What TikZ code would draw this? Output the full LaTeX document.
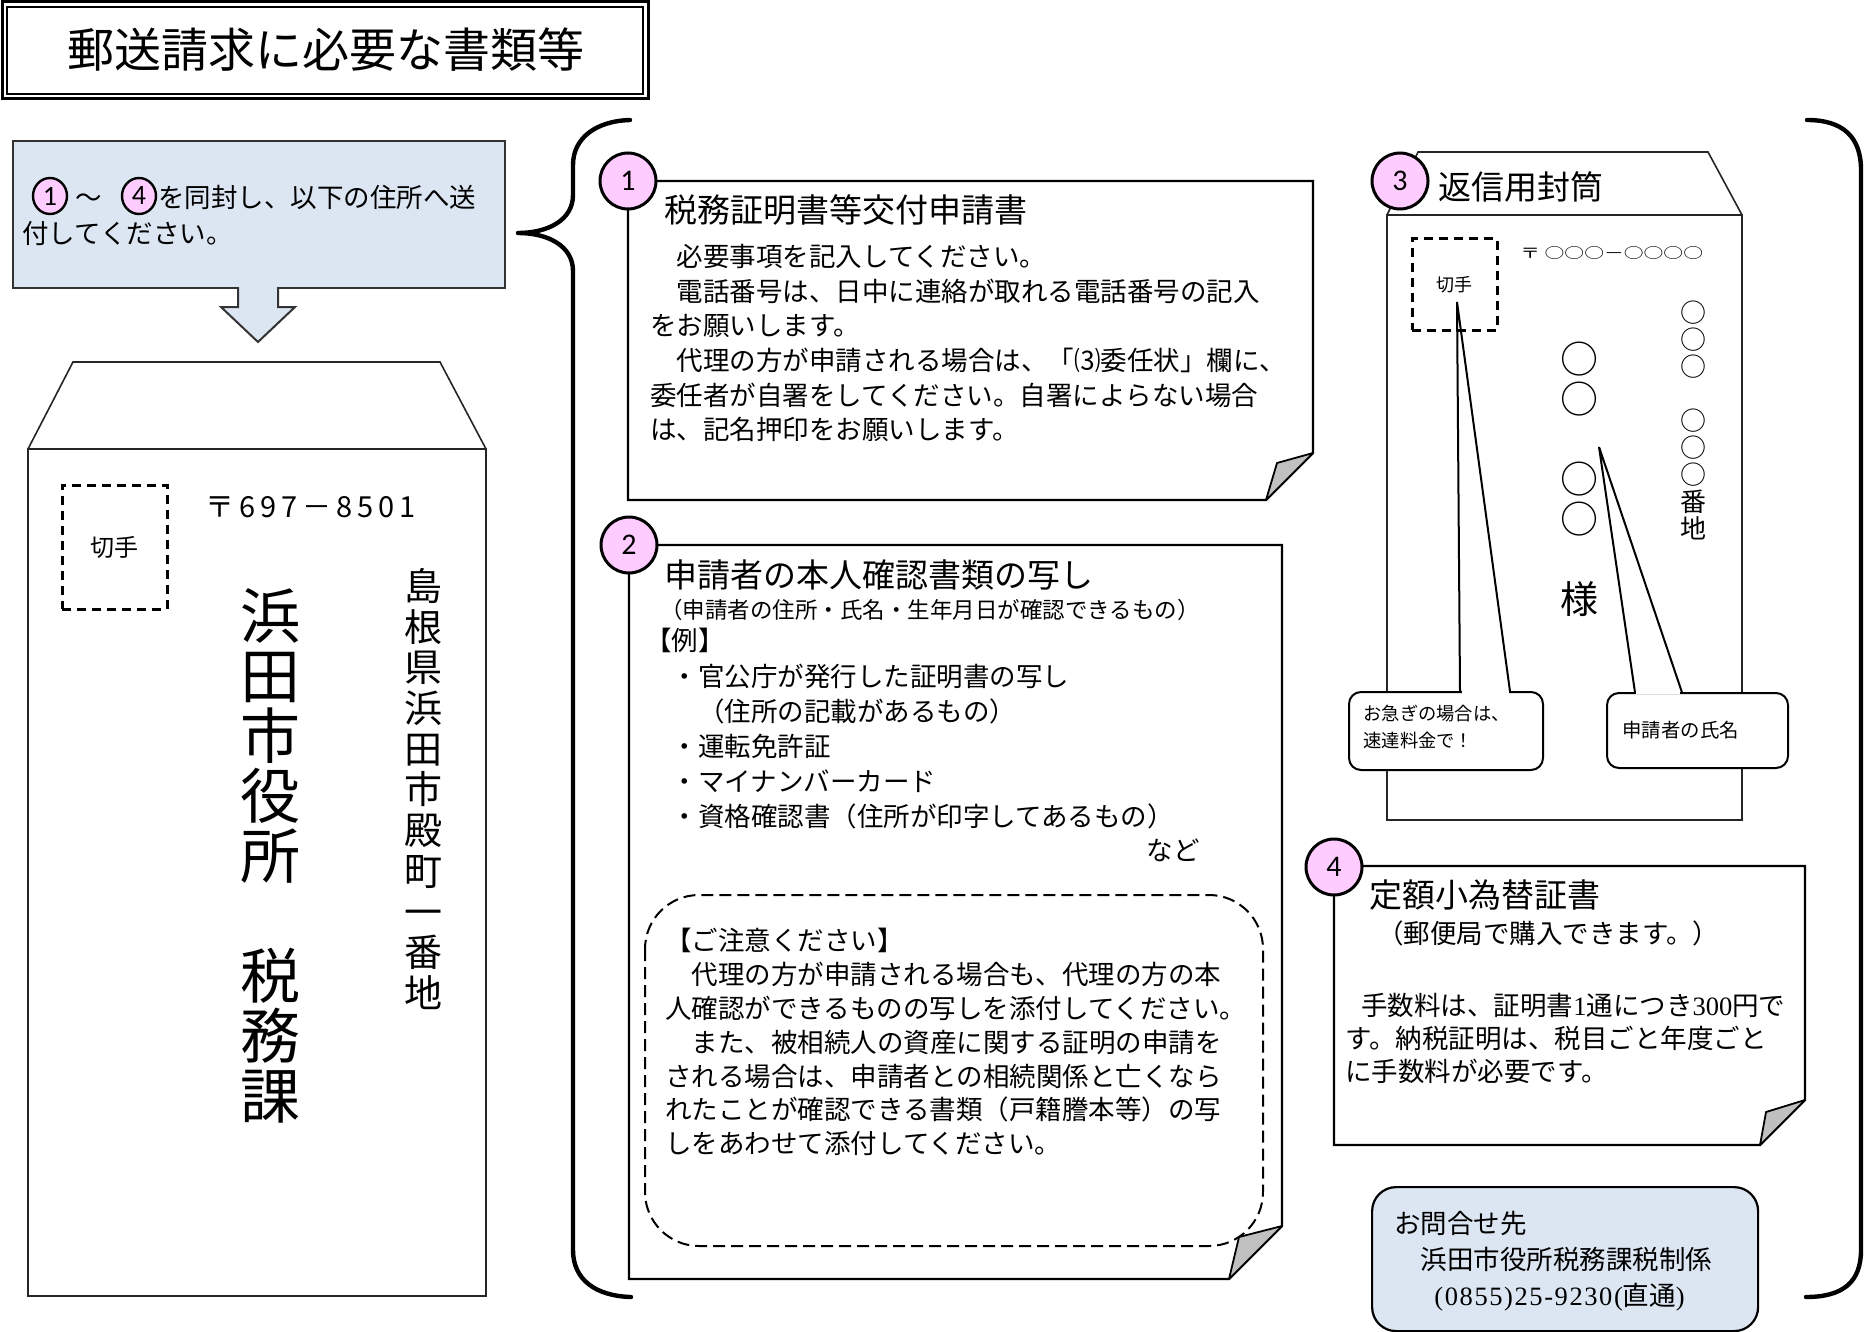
\documentclass[tikz,border=0pt]{standalone}
\usepackage{fontspec}
\setmainfont{Noto Sans CJK JP}
\newfontfamily\numfont{Carlito}
\newfontfamily\serifd{Liberation Serif}
\usetikzlibrary{shapes.geometric}
\definecolor{pinkc}{RGB}{255,204,255}
\definecolor{lblue}{RGB}{220,230,242}
\definecolor{foldgray}{RGB}{192,192,192}
\lineskiplimit=-100pt
\lineskip=0pt
\begin{document}
\begin{tikzpicture}[x=0.5pt,y=-0.5pt,
  card/.style={draw=black,line width=1.2pt,fill=white,line join=miter},
  foldflap/.style={draw=black,line width=0.9pt,fill=foldgray,line join=round},
  numc/.style={circle,draw=black,line width=1.5pt,fill=pinkc,minimum size=28pt,inner sep=0pt,font=\numfont\fontsize{15pt}{15pt}\selectfont},
  smallc/.style={ellipse,draw=black,line width=1.2pt,fill=pinkc,minimum width=17pt,minimum height=18pt,inner sep=0pt,font=\numfont\fontsize{14pt}{14pt}\selectfont},
  txt/.style={inner sep=0pt,align=left,anchor=north west},
  lbl/.style={inner sep=0pt,anchor=west},
  env/.style={draw=black!85,line width=0.8pt},
  stampbox/.style={draw=black,line width=1.5pt,dash pattern=on 4.5pt off 3pt,inner sep=0pt},
  bracepath/.style={line width=2.2pt,line cap=round,line join=round},
  callbox/.style={draw=black,line width=1pt,fill=white,rounded corners=6pt,inner sep=0pt,anchor=north west},
  bodyf/.style={font=\fontsize{13.25pt}{17.3pt}\selectfont},
  headf/.style={font=\fontsize{16.5pt}{16.5pt}\selectfont}
]
\useasboundingbox (0,0) rectangle (1867,1332);

% ---------- title ----------
\draw[line width=1.5pt] (2,2) rectangle (648,99);
\draw[line width=0.7pt] (7,7) rectangle (643,94);
\node (title) [inner sep=0pt,font=\fontsize{23.5pt}{23.5pt}\selectfont] at (326,50) {郵送請求に必要な書類等};

% ---------- instruction box ----------
\node (instr) [fill=lblue,draw=black!80,line width=1pt,minimum width=246pt,minimum height=73.5pt,anchor=north west,inner sep=0pt] at (12,140) {};
\draw[fill=lblue,draw=black!80,line width=1pt,line join=miter] (238,287) -- (238,307) -- (221,307) -- (258,342) -- (295,307) -- (278,307) -- (278,287);
\node (instrtxt) [txt,font=\fontsize{13.25pt}{18pt}\selectfont] at (22,185)
  {\hspace*{26.5pt}～\hspace*{28.25pt}を同封し、以下の住所へ送\\付してください。};
\node (s1) [smallc] at (50,196) {1};
\node (s4) [smallc] at (139,196) {4};

% ---------- left envelope ----------
\draw[env,fill=white,line join=miter] (28,449) -- (73,362) -- (440,362) -- (486,449);
\draw[env] (28,449) rectangle (486,1296);
\node (stampL) [stampbox,minimum width=52.5pt,minimum height=62pt,font=\fontsize{12pt}{12pt}\selectfont] at (114.5,547) {切手};
\node (zipL) [lbl,font=\fontsize{14.5pt}{14.5pt}\selectfont\addfontfeature{LetterSpace=17}] at (205,507) {〒697－8501};
\node (office) [inner sep=0pt,anchor=north,align=center,font=\fontsize{30pt}{30pt}\selectfont] at (270,588)
  {浜\\田\\市\\役\\所\\　\\税\\務\\課};
\node (address) [inner sep=0pt,anchor=north,align=center,font=\fontsize{19pt}{20.35pt}\selectfont] at (423,568)
  {島\\根\\県\\浜\\田\\市\\殿\\町\\一\\番\\地};

% ---------- braces ----------
\draw[bracepath] (630,120) .. controls (596,121) and (573,138) .. (573,165) -- (573,195)
  .. controls (573,220) and (548,233) .. (518,233)
  .. controls (548,233) and (573,246) .. (573,271) -- (573,1250)
  .. controls (573,1280) and (596,1296) .. (631,1297);
\draw[bracepath] (1807,120) .. controls (1843,120) and (1861,137) .. (1861,170) -- (1861,1250)
  .. controls (1861,1282) and (1843,1297) .. (1806,1297);

% ---------- card 1 ----------
\draw[card] (628,181) -- (1313,181) -- (1313,453) -- (1266,500) -- (628,500) -- cycle;
\draw[foldflap] (1313,453) -- (1277,463) -- (1266,500) -- cycle;
\node (c1) [numc] at (628,181) {1};
\node (t1) [lbl,headf] at (664,210) {税務証明書等交付申請書};
\node (b1) [txt,bodyf] at (650,244)
  {　必要事項を記入してください。\\
   　電話番号は、日中に連絡が取れる電話番号の記入\\
   をお願いします。\\
   　代理の方が申請される場合は、「⑶委任状」欄に、\\
   委任者が自署をしてください。自署によらない場合\\
   は、記名押印をお願いします。};

% ---------- card 2 ----------
\draw[card] (629,545) -- (1282,545) -- (1282,1226) -- (1229,1279) -- (629,1279) -- cycle;
\node (t2) [lbl,headf] at (664,575) {申請者の本人確認書類の写し};
\node (st2) [lbl,font=\fontsize{11.25pt}{11.25pt}\selectfont] at (660,610) {（申請者の住所・氏名・生年月日が確認できるもの）};
\node (b2) [txt,font=\fontsize{13.25pt}{17.6pt}\selectfont] at (645,628)
  {【例】\\
   　・官公庁が発行した証明書の写し\\
   　　（住所の記載があるもの）\\
   　・運転免許証\\
   　・マイナンバーカード\\
   　・資格確認書（住所が印字してあるもの）};
\node (nado) [inner sep=0pt,font=\fontsize{13.25pt}{13.25pt}\selectfont] at (1173,850) {など};
\draw[line width=1pt,dash pattern=on 6pt off 3pt,rounded corners=27pt] (645,895) rectangle (1263,1246);
\node (note) [txt,font=\fontsize{13.25pt}{16.9pt}\selectfont] at (665,928)
  {【ご注意ください】\\
   　代理の方が申請される場合も、代理の方の本\\
   人確認ができるものの写しを添付してください。\\
   　また、被相続人の資産に関する証明の申請を\\
   される場合は、申請者との相続関係と亡くなら\\
   れたことが確認できる書類（戸籍謄本等）の写\\
   しをあわせて添付してください。};
\draw[foldflap] (1282,1226) -- (1239,1237) -- (1229,1279) -- cycle;
\node (c2) [numc] at (629,545) {2};

% ---------- card 3 : return envelope ----------
\draw[env,fill=white,line join=miter] (1387,215) -- (1418,152) -- (1708,152) -- (1742,215);
\draw[env] (1387,215) rectangle (1742,820);
\node (c3) [numc] at (1400,181) {3};
\node (t3) [lbl,headf] at (1438,187) {返信用封筒};
\node (stamp3) [stampbox,minimum width=42.5pt,minimum height=45.5pt,font=\fontsize{9pt}{9pt}\selectfont] at (1454.5,284.5) {切手};
\node (zip3) [lbl] at (1520,253) {\scalebox{1.1}[0.8]{\fontsize{9pt}{9pt}\selectfont 〒 ○○○－○○○○}};
\node (name3) [inner sep=0pt,anchor=north,align=center,font=\fontsize{19pt}{20pt}\selectfont] at (1579,342)
  {○\\○\\　\\○\\○\\　\\様};
\node (addr3) [inner sep=0pt,anchor=north,align=center,font=\fontsize{13pt}{13.5pt}\selectfont] at (1693,301)
  {○\\○\\○\\　\\○\\○\\○\\番\\地};
\coordinate (tipA) at (1457,302);
\coordinate (tipB) at (1599,447);
\node (callA) [callbox,minimum width=97pt,minimum height=39pt] at (1348,691) {};
\node (callB) [callbox,minimum width=90.5pt,minimum height=37.5pt] at (1606,692) {};
\fill[white] (1461.5,688) rectangle (1509,694);
\fill[white] (1636,688) rectangle (1680,694);
\draw[line width=1pt,line join=miter] (1460,691.5) -- (tipA) -- (1510,691.5);
\draw[line width=1pt,line join=miter] (1635,692.5) -- (tipB) -- (1682,692.5);
\node (callAtxt) [txt,font=\fontsize{9.15pt}{13.5pt}\selectfont] at (1363,705) {お急ぎの場合は、\\速達料金で！};
\node (callBtxt) [lbl,font=\fontsize{9.7pt}{9.7pt}\selectfont] at (1622,730) {申請者の氏名};

% ---------- card 4 ----------
\draw[card] (1334,866) -- (1805,866) -- (1805,1100) -- (1760,1145) -- (1334,1145) -- cycle;
\draw[foldflap] (1805,1100) -- (1766,1112) -- (1760,1145) -- cycle;
\node (c4) [numc] at (1334,867) {4};
\node (t4) [lbl,headf] at (1369,895) {定額小為替証書};
\node (st4) [lbl,font=\fontsize{13.25pt}{13.25pt}\selectfont] at (1377,933) {（郵便局で購入できます。）};
\node (b4) [txt,font=\fontsize{13.25pt}{16.5pt}\selectfont] at (1345,993)
  {\hspace*{8pt}手数料は、証明書{\serifd 1}通につき{\serifd 300}円で\\
   す。納税証明は、税目ごと年度ごと\\
   に手数料が必要です。};

% ---------- contact ----------
\node (contact) [draw=black,line width=1.1pt,fill=lblue,rounded corners=12pt,minimum width=193pt,minimum height=72pt,anchor=north west,inner sep=0pt] at (1371,1186) {};
\node (contacttxt) [txt,font=\fontsize{13.25pt}{18pt}\selectfont] at (1394,1211)
  {お問合せ先\\
   　浜田市役所税務課税制係\\
   \hspace*{20pt}{\serifd\addfontfeature{LetterSpace=6}(0855)25-9230(}直通{\serifd )}};
\end{tikzpicture}
\end{document}
